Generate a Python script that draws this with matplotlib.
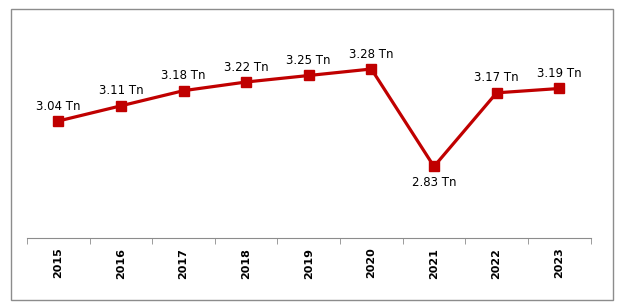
import numpy as np
import matplotlib
matplotlib.use("Agg")
import matplotlib.pyplot as plt
from matplotlib.patches import Rectangle

years = ["2015", "2016", "2017", "2018", "2019", "2020", "2021", "2022", "2023"]
values = [3.04, 3.11, 3.18, 3.22, 3.25, 3.28, 2.83, 3.17, 3.19]
labels = ["3.04 Tn", "3.11 Tn", "3.18 Tn", "3.22 Tn", "3.25 Tn", "3.28 Tn", "2.83 Tn", "3.17 Tn", "3.19 Tn"]

W, H = 624, 308
fig = plt.figure(figsize=(W / 100, H / 100), dpi=100)
fig.patches.append(Rectangle((11 / W, 1 - 300 / H), 602 / W, 291 / H,
                             transform=fig.transFigure, fill=False,
                             edgecolor="#8c8c8c", linewidth=1))

ax = fig.add_axes([27 / W, 1 - 238 / H, 563.5 / W, 195 / H])
x = np.arange(len(years))
ax.plot(x, values, color="#C00000", linewidth=2.3, marker="s", markersize=6.5)

for xi, v, lab in zip(x, values, labels):
    if v < 3.0:
        ax.annotate(lab, (xi, v), xytext=(0, -7), textcoords="offset points",
                    ha="center", va="top", fontsize=8.5)
    else:
        ax.annotate(lab, (xi, v), xytext=(0, 6), textcoords="offset points",
                    ha="center", va="bottom", fontsize=8.5)

ax.set_xlim(-0.5, len(years) - 0.5)
ax.set_ylim(2.5, 3.4)
ax.set_xticks(x)
ax.set_xticklabels(years, rotation=90, fontweight="bold", fontsize=8)
ax.set_xticks(np.arange(-0.5, len(years)), minor=True)
ax.tick_params(axis="x", which="major", length=0, pad=7)
ax.tick_params(axis="x", which="minor", length=4, color="#8c8c8c", direction="out")
ax.set_yticks([])
for s in ["top", "right", "left"]:
    ax.spines[s].set_visible(False)
ax.spines["bottom"].set_color("#8c8c8c")

fig.savefig("out.png", dpi=100)
